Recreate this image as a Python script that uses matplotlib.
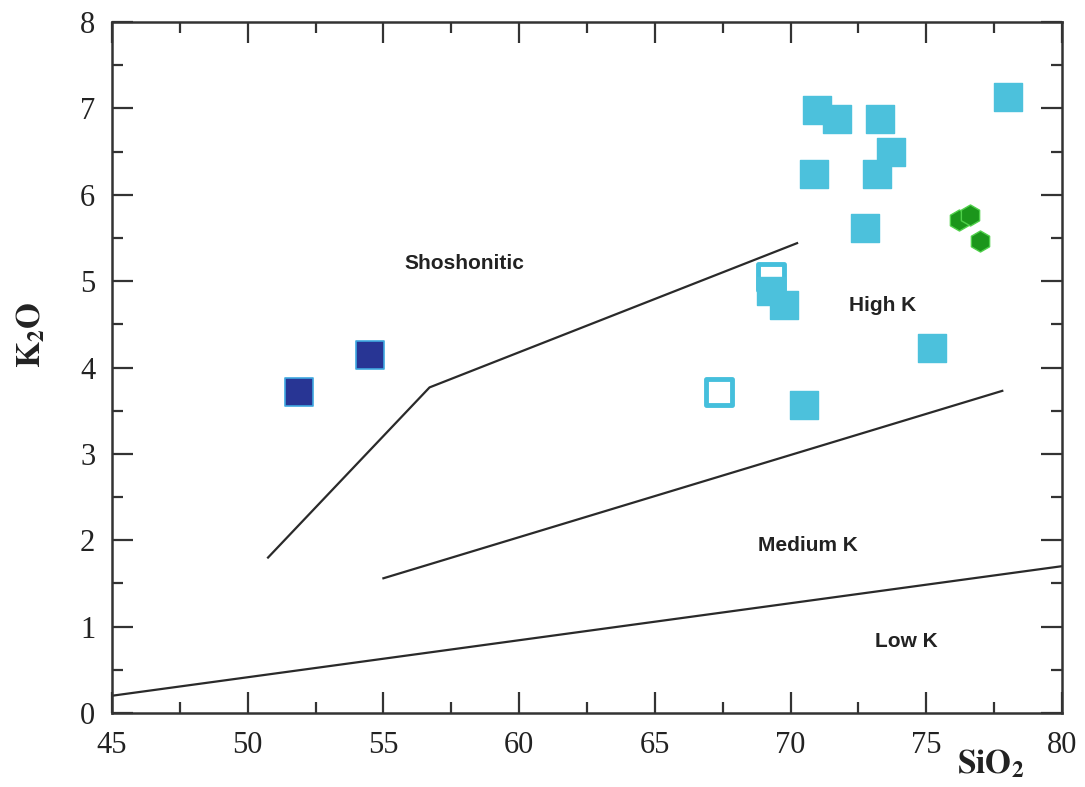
import matplotlib
matplotlib.use("Agg")
import matplotlib.pyplot as plt
from matplotlib.ticker import MultipleLocator

# sample groups (SiO2, K2O)
dark_sio2 = [51.9, 54.5]
dark_k2o = [3.72, 4.14]

light_sio2 = [70.97, 71.7, 73.3, 73.7, 70.87, 73.2, 72.75, 69.28, 69.75, 75.2, 70.5, 78.0]
light_k2o = [6.98, 6.875, 6.875, 6.50, 6.24, 6.24, 5.62, 4.89, 4.72, 4.23, 3.57, 7.13]

open_sio2 = [69.28, 67.37]
open_k2o = [5.05, 3.72]

green_sio2 = [76.2, 76.6, 76.97]
green_k2o = [5.71, 5.77, 5.47]

# field boundaries
low_med_x = [45, 80]
low_med_y = [0.2, 1.7]
med_high_x = [55.0, 77.8]
med_high_y = [1.56, 3.73]
high_sho_x = [50.75, 56.7, 70.24]
high_sho_y = [1.80, 3.77, 5.44]

labels = ["Shoshonitic", "High K", "Medium K", "Low K"]
label_x = [58.0, 73.4, 70.65, 74.25]
label_y = [5.21, 4.72, 1.94, 0.83]

plt.rcParams["font.family"] = ["Liberation Serif", "DejaVu Serif"]
plt.rcParams["mathtext.fontset"] = "stix"

fig = plt.figure(figsize=(10.85, 7.87), dpi=100)
ax = fig.add_axes([0.1032, 0.094, 0.8756, 0.878])

for x, y in [(low_med_x, low_med_y), (med_high_x, med_high_y), (high_sho_x, high_sho_y)]:
    ax.plot(x, y, color="#2a2a2a", lw=1.6, zorder=1)

ax.scatter(light_sio2, light_k2o, marker="s", s=400, color="#4cc1dc", zorder=3)
ax.scatter(open_sio2, open_k2o, marker="s", s=330, facecolor="white",
           edgecolor="#45bfdc", linewidth=3.5, zorder=2)
ax.scatter(dark_sio2, dark_k2o, marker="s", s=400, color="#283594",
           edgecolor="#3fa8e0", linewidth=1.2, zorder=3)
ax.scatter(green_sio2, green_k2o, marker="h", s=230, color="#1b961b",
           edgecolor="#4fd04a", linewidth=1.0, zorder=3)

for t, x, y in zip(labels, label_x, label_y):
    ax.text(x, y, t, ha="center", va="center", fontsize=15, fontweight="bold",
            family=["Liberation Sans Narrow", "Liberation Sans"], color="#222222")

ax.set_xlim(45, 80)
ax.set_ylim(0, 8)
ax.xaxis.set_major_locator(MultipleLocator(5))
ax.xaxis.set_minor_locator(MultipleLocator(2.5))
ax.yaxis.set_major_locator(MultipleLocator(1))
ax.yaxis.set_minor_locator(MultipleLocator(0.5))
ax.tick_params(which="both", direction="in", top=True, right=True, width=1.6,
               color="#333333", labelsize=22, labelcolor="#222222")
ax.tick_params(which="major", length=15)
ax.tick_params(which="minor", length=8)
ax.tick_params(axis="x", pad=13)
ax.tick_params(axis="y", pad=12)
for sp in ax.spines.values():
    sp.set_linewidth(1.8)
    sp.set_color("#333333")

fig.text(0.028, 0.575, r"$\mathbf{K_2O}$", rotation=90, ha="center", va="center",
         fontsize=24, color="#222222")
fig.text(0.913, 0.03, r"$\mathbf{SiO_2}$", ha="center", va="center",
         fontsize=24, color="#222222")

fig.savefig("out.png", dpi=100)
